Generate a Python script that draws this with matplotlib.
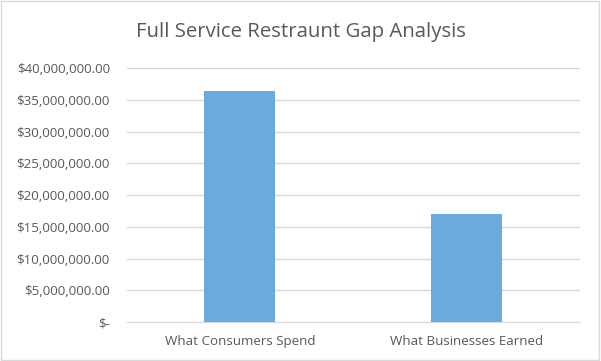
import matplotlib
matplotlib.use('Agg')
import matplotlib.pyplot as plt
from matplotlib.patches import Rectangle
from matplotlib.ticker import FuncFormatter

categories = ['What Consumers Spend', 'What Businesses Earned']
values = [36400000, 17000000]
title = 'Full Service Restraunt Gap Analysis'

plt.rcParams['font.family'] = ['Open Sans', 'DejaVu Sans']
text_color = '#595959'


def money(v, pos):
    if v == 0:
        return '$-'
    return '${:,.2f}'.format(v)


fig = plt.figure(figsize=(6.01, 3.61), dpi=100)
ax = fig.add_axes([0.2105, 0.108, 0.754, 0.7036])

ax.bar(range(len(categories)), values, width=0.314, color='#6CA9DC', zorder=3)
ax.set_xlim(-0.5, 1.5)
ax.set_ylim(0, 40000000)
ax.set_yticks(range(0, 40000001, 5000000))
ax.yaxis.set_major_formatter(FuncFormatter(money))
ax.set_xticks(range(len(categories)))
ax.set_xticklabels(categories)

ax.grid(axis='y', color='#d9d9d9', linewidth=1, zorder=0)
for side in ['top', 'right', 'left']:
    ax.spines[side].set_visible(False)
ax.spines['bottom'].set_color('#d9d9d9')
ax.tick_params(axis='both', length=0, labelsize=9.6, colors=text_color)
ax.tick_params(axis='y', pad=12)
ax.tick_params(axis='x', pad=9)

fig.text(0.5, 0.91, title, ha='center', va='center', fontsize=14.7, color=text_color)
fig.patches.append(Rectangle((0.002, 0.003), 0.995, 0.993, transform=fig.transFigure,
                             fill=False, edgecolor='#d9d9d9', linewidth=1))

fig.savefig('out.png', dpi=100)
